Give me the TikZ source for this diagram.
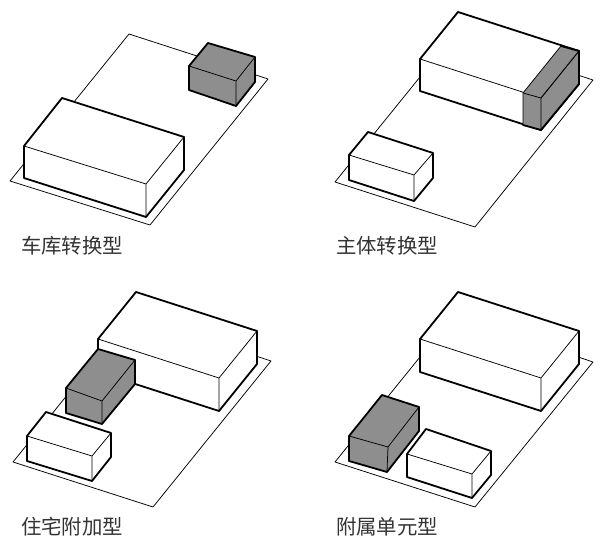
\documentclass[tikz,border=0pt]{standalone}
\usepackage{fontspec}
\newfontfamily\cjk{Noto Sans CJK SC}
\definecolor{massgray}{HTML}{8E8E8E}
\tikzset{
  sitepoly/.style={draw=black,line width=0.75pt,line join=round,fill=white},
  outerline/.style={draw=black,line width=1.8pt,line join=round,line cap=round},
  innerline/.style={draw=black,line width=0.75pt,line cap=round},
  caption/.style={font=\cjk\fontsize{20.4pt}{21pt}\selectfont,text=black!80,anchor=center,inner sep=0pt}
}
% #1 fill; #2 T, #3 R, #4 F, #5 L, #6 LB, #7 FB, #8 RB
\newcommand{\massbox}[8]{%
  \fill[#1] #2 -- #3 -- #8 -- #7 -- #6 -- #5 -- cycle;
  \draw[innerline] #5 -- #4 -- #3 #4 -- #7;
  \draw[outerline] #5 -- #2 -- #3 -- #8 -- #7 -- #6 -- cycle;
}
\begin{document}
\begin{tikzpicture}[x=1pt,y=-1pt]
\useasboundingbox[fill=white] (0,0) rectangle (600,545);
% Panel 1
\draw[sitepoly] (129,34) -- (268,79) -- (150,225) -- (10,181) -- cycle;
\massbox{massgray}{(208,43)}{(255,57)}{(236,81)}{(189,66)}{(189,90)}{(236,106)}{(255,82)}
\massbox{white}{(62,98)}{(184,137)}{(146,184)}{(24,146)}{(24,178)}{(146,217)}{(184,170)}
\node[caption] (c1) at (72,246) {车库转换型};
% Panel 2
\draw[sitepoly] (454,35) -- (593,80) -- (475,227) -- (335,182) -- cycle;
\massbox{white}{(458,12)}{(579,51)}{(541,98)}{(420,59)}{(420,91)}{(541,130)}{(579,84)}
\fill[massgray] (561,46) -- (579,51) -- (579,84) -- (541,130) -- (523,125) -- (523,93) -- cycle;
\draw[innerline] (561,46) -- (523,93) -- (523,125);
\draw[innerline] (523,93) -- (541,98) -- (541,130);
\draw[draw=black,line width=1pt,line cap=round] (579,51) -- (541,98);
\draw[outerline] (561,46) -- (579,51) -- (579,84) -- (541,130) -- (523,125);
\massbox{white}{(368,132)}{(433,153)}{(414,175)}{(349,155)}{(349,180)}{(414,201)}{(433,178)}
\node[caption] (c2) at (387,246) {主体转换型};
% Panel 3
\draw[sitepoly] (132,315) -- (271,361) -- (153,507) -- (13,462) -- cycle;
\massbox{white}{(136,292)}{(257,331)}{(219,378)}{(98,339)}{(98,372)}{(219,411)}{(257,364)}
\massbox{massgray}{(98,349)}{(135,360)}{(102,401)}{(66,388)}{(66,413)}{(102,424)}{(135,384)}
\massbox{white}{(46,412)}{(111,433)}{(92,456)}{(27,436)}{(27,461)}{(92,481)}{(111,457)}
\node[caption] (c3) at (72,527) {住宅附加型};
% Panel 4
\draw[sitepoly] (454,315) -- (593,362) -- (475,507) -- (335,462) -- cycle;
\massbox{white}{(458,292)}{(579,331)}{(541,378)}{(420,339)}{(420,372)}{(541,411)}{(579,364)}
\massbox{massgray}{(382,395)}{(419,407)}{(388,447)}{(349,436)}{(349,461)}{(387,472)}{(419,431)}
\massbox{white}{(426,429)}{(491,451)}{(472,474)}{(407,454)}{(407,477)}{(472,498)}{(491,475)}
\node[caption] (c4) at (387,527) {附属单元型};
\end{tikzpicture}
\end{document}
